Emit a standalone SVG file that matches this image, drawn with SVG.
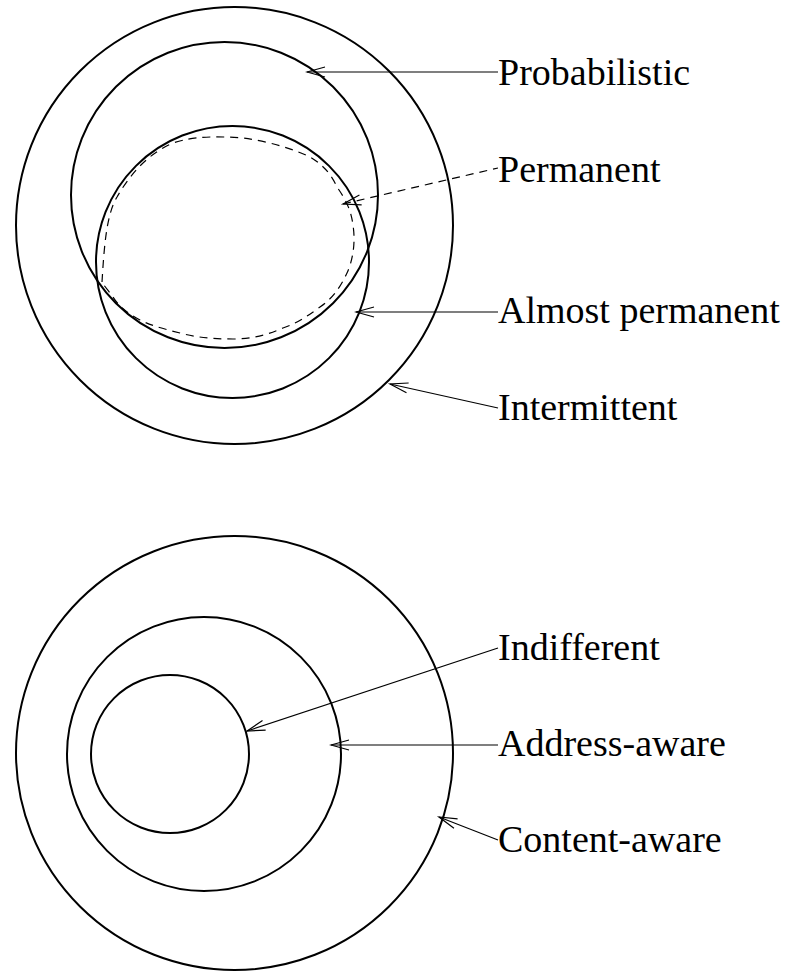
<svg xmlns="http://www.w3.org/2000/svg" width="792" height="972" viewBox="0 0 792 972">
<style>
.sh{fill:none;stroke:#000;stroke-width:2}
.ln{fill:none;stroke:#000;stroke-width:1.2}
.dash{stroke-dasharray:8,6}
text{font-family:"Liberation Serif","Times New Roman",serif;font-size:38px;fill:#000}
</style>
<defs>
<marker id="ah" markerUnits="userSpaceOnUse" markerWidth="24" markerHeight="14" viewBox="-2 -7 24 14" refX="0" refY="0" orient="auto">
<path d="M18,-5 L0,0 L18,5" fill="none" stroke="#000" stroke-width="1.2"/>
</marker>
</defs>
<rect width="792" height="972" fill="#fff"/>
<g id="intermittent"><ellipse class="sh" cx="234.5" cy="225.5" rx="218.5" ry="218.5"/></g>
<g id="probabilistic"><ellipse class="sh" cx="224.5" cy="195" rx="153.5" ry="153"/></g>
<g id="almost-permanent"><ellipse class="sh" cx="232.5" cy="262" rx="136.5" ry="136"/></g>
<g id="permanent"><path class="ln dash" d="M102,282 C104,250 106,215 117,197 C128,178 145,155 173,143 C195,136 210,137 227,137 C250,137 285,145 310,157 C325,166 332,176 337,187 C346,200 351,210 353,225 C356,245 352,262 347,273 C338,292 330,300 320,307 C305,318 295,324 283,328 C265,336 250,339 233,339 C210,339 195,337 180,333 C160,328 150,325 140,320 C125,312 118,305 113,297 C108,290 104,286 102,282 Z"/></g>
<g id="nested-outer"><ellipse class="sh" cx="234.5" cy="753" rx="218.5" ry="217"/></g>
<g id="nested-middle"><ellipse class="sh" cx="204" cy="754" rx="137" ry="137"/></g>
<g id="nested-inner"><ellipse class="sh" cx="170" cy="754" rx="79" ry="79"/></g>
<g id="connectors">
<line class="ln" x1="307" y1="72" x2="498" y2="72" marker-start="url(#ah)"/>
<line class="ln dash" x1="343" y1="204" x2="498" y2="168" marker-start="url(#ah)"/>
<line class="ln" x1="356" y1="312" x2="498" y2="312" marker-start="url(#ah)"/>
<line class="ln" x1="390" y1="384" x2="498" y2="408" marker-start="url(#ah)"/>
<line class="ln" x1="247" y1="731" x2="498" y2="648" marker-start="url(#ah)"/>
<line class="ln" x1="331" y1="745" x2="498" y2="745" marker-start="url(#ah)"/>
<line class="ln" x1="439" y1="817" x2="498" y2="840" marker-start="url(#ah)"/>
</g>
<g id="labels">
<text x="498" y="85">Probabilistic</text>
<text x="498" y="182">Permanent</text>
<text x="498" y="323">Almost permanent</text>
<text x="498" y="420">Intermittent</text>
<text x="498" y="660">Indifferent</text>
<text x="498" y="756">Address-aware</text>
<text x="498" y="852">Content-aware</text>
</g>
</svg>
